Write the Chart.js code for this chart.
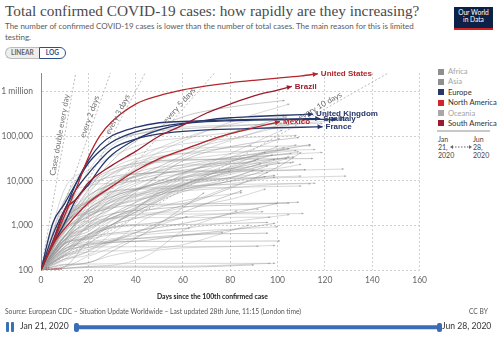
<!DOCTYPE html>
<html>
<head>
<meta charset="utf-8">
<script src="https://cdn.jsdelivr.net/npm/chart.js@4"></script>
<style>
  body { margin: 0; width: 500px; height: 337px; background: #fff; font-family: Lato, sans-serif; position: relative; overflow: hidden; }
  .abs { position: absolute; white-space: nowrap; }
  #title { left: 5px; top: 2px; font: 15.3px "Liberation Serif", serif; color: #4a4a4a; }
  #subtitle { left: 5px; top: 21px; font-size: 8px; line-height: 11px; color: #5b5b5b; }
  #toggle { left: 5px; top: 47px; height: 12px; display: flex; font-size: 6.5px; font-weight: bold; }
  #toggle .lin { background: #eee; border: 1px solid #bbb; border-right: none; border-radius: 7px 0 0 7px; color: #666; padding: 0 5px; line-height: 10px; }
  #toggle .log { background: #fff; border: 1px solid #2d4f8a; border-radius: 0 7px 7px 0; color: #2d4f8a; padding: 0 6px; line-height: 10px; }
  #logo { left: 454px; top: 7px; width: 39px; height: 19px; background: #0b2148; color: #fff; font-size: 6.6px; line-height: 7px; text-align: center; padding-top: 2px; border-bottom: 2px solid #ce261e; }
  #chartBox { left: 0; top: 60px; width: 432px; height: 246px; }
  #xTitle { left: 157px; top: 292px; font-size: 6.8px; font-weight: bold; color: #222; }
  #legend { left: 438px; top: 66px; font-size: 7.6px; }
  #legend div { height: 10.4px; line-height: 10px; }
  #legend span.sq { display: inline-block; width: 6px; height: 6px; margin-right: 4px; vertical-align: -0.5px; }
  #sep { left: 437px; top: 130px; width: 53px; height: 2px; background: #c8c8c8; }
  .date { font-size: 7px; line-height: 8px; color: #444; top: 135px; }
  #source { left: 5px; top: 307px; font-size: 6.7px; color: #555; }
  #ccby { left: 469px; top: 307px; font-size: 6.7px; color: #555; }
  .tl { font-size: 8.6px; color: #333; top: 321px; }
</style>
</head>
<body>
<div id="title" class="abs">Total confirmed COVID-19 cases: how rapidly are they increasing?</div>
<div id="subtitle" class="abs">The number of confirmed COVID-19 cases is lower than the number of total cases. The main reason for this is limited<br>testing.</div>
<div id="toggle" class="abs"><div class="lin">LINEAR</div><div class="log">LOG</div></div>
<div id="logo" class="abs">Our World<br>in Data</div>
<div id="chartBox" class="abs"><canvas id="chart" width="432" height="246"></canvas></div>
<div id="xTitle" class="abs">Days since the 100th confirmed case</div>
<div id="legend" class="abs"></div>
<div id="sep" class="abs"></div>
<div class="abs date" style="left:438px">Jan<br>21,<br>2020</div>
<div class="abs date" style="left:473px">Jun<br>28,<br>2020</div>
<svg class="abs" style="left:450px;top:143px" width="22" height="8">
  <line x1="2" y1="4" x2="20" y2="4" stroke="#666" stroke-width="1" stroke-dasharray="1.5,1.5"/>
  <path d="M0,4 L3,2 L3,6 Z M22,4 L19,2 L19,6 Z" fill="#666"/>
</svg>
<div id="source" class="abs">Source: European CDC – Situation Update Worldwide – Last updated 28th June, 11:15 (London time)</div>
<div id="ccby" class="abs">CC BY</div>
<svg class="abs" style="left:0;top:318px" width="500" height="19">
  <rect x="6" y="4" width="3" height="10" rx="1" fill="#3b6fb6"/>
  <rect x="11" y="4" width="3" height="10" rx="1" fill="#3b6fb6"/>
  <rect x="76" y="7.2" width="364" height="4" rx="2" fill="#3a6db5"/>
  <rect x="74" y="5" width="5" height="9" rx="2" fill="#3a6db5"/>
  <rect x="437" y="5" width="5" height="9" rx="2" fill="#3a6db5"/>
</svg>
<div class="abs tl" style="left:20px">Jan 21, 2020</div>
<div class="abs tl" style="left:442px">Jun 28, 2020</div>

<script>
// axis ticks
const yTickValues = [100, 1000, 10000, 100000, 1000000];
const yTickLabels = ['100', '1,000', '10,000', '100,000', '1 million'];
const xMin = 0, xMax = 160, xStep = 20;
const yMin = 100, yMax = 2600000;

// legend
const regions = ['Africa', 'Asia', 'Europe', 'North America', 'Oceania', 'South America'];
const regionActive = [false, false, true, true, false, true];
const regionColors = ['#8f8f8f', '#8f8f8f', '#26376b', '#d3222a', '#a8a8a8', '#9b1b2e'];

// highlighted countries: [day since 100th case, confirmed cases]
const unitedStates = [[0,100],[5,400],[10,1678],[15,7000],[20,33404],[25,104000],[30,213000],[40,525000],[50,812000],[60,1092000],[70,1342000],[80,1577000],[90,1790000],[100,2000000],[110,2255000],[117,2510000]];
const brazil = [[0,100],[5,428],[10,2201],[15,3904],[20,9056],[30,22169],[40,45757],[50,101147],[60,177589],[70,330890],[80,526447],[90,802828],[100,1083341],[106,1313667]];
const mexico = [[0,100],[5,367],[10,848],[20,3181],[30,7497],[40,16752],[50,31522],[60,49219],[70,78023],[80,113619],[90,154863],[101,212802]];
const unitedKingdom = [[0,100],[5,373],[10,1140],[15,3983],[20,8077],[25,19522],[30,38168],[40,84279],[50,138078],[60,186599],[70,229705],[80,259559],[90,276332],[100,291409],[115,311151]];
const spain = [[0,100],[5,430],[10,2140],[15,9191],[20,28572],[25,64059],[30,102136],[40,157022],[50,200210],[60,213435],[70,224390],[80,232555],[90,239228],[100,241717],[118,248770]];
const italy = [[0,100],[5,1128],[10,3089],[15,9172],[20,24747],[25,47021],[30,74386],[40,124632],[50,162488],[60,192994],[70,211938],[80,222104],[90,229858],[100,233836],[110,236651],[125,240436]];
const france = [[0,100],[5,613],[10,2284],[15,6633],[20,14459],[25,29155],[30,52128],[40,86334],[50,112606],[60,128442],[70,139063],[80,143427],[90,149668],[100,154591],[110,158641],[119,162936]];

const countryNames = ['United States', 'Brazil', 'Mexico', 'United Kingdom', 'Spain', 'Italy', 'France'];
const countrySeries = [unitedStates, brazil, mexico, unitedKingdom, spain, italy, france];
const countryRegion = [3, 5, 3, 2, 2, 2, 2];

// doubling reference lines (from 100 cases at day 0 to the top of the axis)
const doublingLabels = ['Cases double every day', 'every 2 days', 'every 3 days', 'every 5 days', 'every 10 days'];
const doublingEnds = [[14.67, 2600000], [29.33, 2600000], [44.0, 2600000], [73.3, 2600000], [146.7, 2600000]];
const doublingLabelAt = [0.475, 0.665, 0.68, 0.735, 0.75];

// all other countries (shown in grey)
const otherCountries = [
  [[0,100],[10,1036],[20,6343],[30,27938],[45,114431],[60,272043],[80,449834],[103,634437]],
  [[0,100],[10,415],[20,2902],[30,7447],[45,31332],[60,78003],[80,207615],[105,528859]],
  [[0,100],[10,580],[20,2281],[30,11475],[45,40459],[60,88541],[80,183198],[103,275989]],
  [[0,100],[10,922],[20,4471],[30,8273],[45,16023],[60,37040],[80,113628],[104,271982]],
  [[0,100],[10,6566],[20,17361],[30,35408],[45,71686],[60,91472],[80,120198],[100,169425],[122,222669]],
  [[0,100],[10,1565],[20,16662],[30,61913],[45,127584],[60,159119],[80,176007],[100,184543],[119,194259]],
  [[0,100],[10,3629],[20,23934],[30,74193],[45,122392],[60,146457],[80,167410],[102,196515]],
  [[0,100],[10,1495],[20,2818],[30,5716],[45,13328],[60,32081],[80,80463],[104,202955]],
  [[0,100],[10,767],[20,2039],[30,5369],[45,21402],[60,46869],[80,85261],[105,182493]],
  [[0,100],[10,1012],[20,3382],[30,8790],[45,22268],[60,49534],[84,137787]],
  [[0,100],[10,1170],[20,1845],[30,2783],[45,5951],[60,13524],[80,40792],[102,138134]],
  [[0,100],[10,1384],[20,8612],[30,22148],[45,46895],[60,66780],[80,88512],[108,103918]],
  [[0,100],[10,470],[20,1325],[30,2376],[45,8525],[60,28272],[80,58433],[109,93663]],
  [[0,100],[10,798],[20,1780],[30,3439],[45,7668],[60,14939],[80,33466],[101,88591]],
  [[0,100],[10,327],[20,985],[30,2350],[45,5537],[60,11719],[80,26384],[108,63923]],
  [[0,100],[10,1279],[20,3447],[30,7693],[45,14385],[60,23216],[80,33843],[100,48288],[114,65137]],
  [[0,100],[10,1981],[20,6723],[30,14027],[45,28681],[60,41658],[89,61475]],
  [[0,100],[10,1627],[20,3465],[30,7603],[45,24934],[60,30419],[80,40414],[103,55255]],
  [[0,100],[10,579],[20,1986],[30,3842],[45,7775],[60,15438],[80,27549],[105,52812]],
  [[0,100],[10,1054],[20,1894],[30,2839],[45,4428],[60,8068],[80,21037],[100,59933]],
  [[0,100],[10,178],[20,385],[30,926],[45,3699],[60,14423],[80,29812],[100,37910],[119,43246]],
  [[0,100],[10,552],[20,2311],[30,4428],[45,7579],[60,11618],[80,16634],[105,34803]],
  [[0,100],[10,254],[20,620],[30,1046],[45,3654],[60,11135],[80,15798],[100,16851],[128,18390]],
  [[0,100],[10,3736],[20,7755],[30,8799],[45,10237],[60,10694],[80,11037],[100,11668],[129,12757]],
  [[0,100],[10,378],[20,566],[30,1042],[45,2719],[60,5735],[80,9910],[94,16742]],
  [[0,100],[10,288],[20,627],[30,1337],[45,4787],[60,8344],[80,15181],[93,24567]],
  [[0,100],[10,791],[20,1545],[30,3568],[45,5408],[60,7211],[80,8537],[99,12052]],
  [[0,100],[10,216],[20,320],[30,435],[45,887],[60,1962],[85,6070]],
  [[0,100],[10,1072],[20,3635],[30,5795],[45,6547],[60,6849],[80,7124],[110,7641]],
  [[0,100],[10,868],[20,1239],[30,1445],[45,1487],[60,1504],[97,1528]],
  [[0,100],[10,599],[20,1651],[30,2473],[45,2954],[60,3017],[80,3104],[105,3162]],
  [[0,100],[10,203],[20,255],[30,268],[45,271],[60,314],[80,334],[99,355]],
  [[0,100],[10,238],[20,1030],[30,2908],[45,4987],[60,5945],[80,6941],[100,8369],[114,8634]],
  [[0,100],[10,716],[20,1572],[30,2629],[45,4154],[60,6442],[80,9733],[99,13273]],
  [[0,100],[10,555],[20,820],[30,1518],[45,2579],[60,3105],[80,7392],[95,12592]],
  [[0,100],[10,207],[20,291],[30,412],[45,1492],[60,2480],[80,3836],[95,6586]],
  [[0,100],[10,131],[20,145],[30,263],[45,731],[60,2506],[69,5425]],
  [[0,100],[10,116],[20,203],[30,317],[45,679],[63,870]],
  [[0,100],[10,176],[20,217],[30,460],[45,824],[60,1469],[80,1859],[94,2037]],
  [[0,100],[10,298],[20,379],[30,425],[45,438],[60,440],[101,447]],
  [[0,100],[10,268],[20,324],[30,331],[60,334],[92,341]],
  [[0,100],[10,564],[20,1035],[30,1467],[45,1887],[60,2025],[80,2211],[92,2325]],
  [[0,100],[10,331],[20,910],[30,1716],[45,3573],[60,8118],[80,19954],[98,38150]],
  [[0,100],[10,176],[20,266],[30,665],[45,2399],[60,7623],[80,24112],[109,44942]],
  [[0,100],[10,485],[20,840],[30,1463],[45,3224],[60,7072],[80,17267],[92,31238]],
  [[0,100],[10,214],[20,630],[30,1031],[45,1677],[60,2818],[80,6868],[100,20209],[110,43402]],
  [[0,100],[10,433],[20,3865],[30,10408],[45,14882],[60,16539],[80,17714],[100,18983],[110,23491]],
  [[0,100],[10,108],[20,121],[30,128],[45,212],[60,758],[83,2138]],
  [[0,100],[10,119],[20,446],[30,920],[45,1089],[62,1568]],
  [[0,100],[10,375],[20,1042],[30,2912],[45,9026],[49,12309]],
  [[0,100],[10,412],[20,494],[30,630],[45,704],[60,850],[80,1191],[105,1745]],
  [[0,100],[10,259],[20,358],[30,413],[45,465],[60,608],[80,784],[99,1121]],
  [[0,100],[10,959],[20,5560],[30,14697],[45,31589],[60,40434],[80,44995],[100,48251],[116,50223]],
  [[0,100],[10,689],[20,4937],[30,18431],[45,36138],[60,50781],[80,57455],[100,59819],[114,61209]],
  [[0,100],[10,1125],[20,8060],[30,17768],[45,26336],[60,29586],[80,30618],[100,31063],[115,31555]],
  [[0,100],[10,2060],[20,8251],[30,15472],[45,24027],[60,28319],[80,31292],[106,41189]],
  [[0,100],[10,1319],[20,4662],[30,8617],[45,14710],[60,20148],[80,27856],[95,43628]],
  [[0,100],[10,1051],[20,2946],[30,6934],[45,12218],[60,17204],[80,23786],[107,34154]],
  [[0,100],[10,109],[20,119],[30,122],[60,122],[97,141]],
  [[0,100],[10,135],[20,136],[30,138],[60,141],[99,141]],
  [[0,100],[10,227],[20,393],[30,449],[60,611],[96,670]],
  [[0,100],[10,409],[20,890],[30,1417],[45,1754],[60,1799],[111,1842]],
  [[0,100],[10,120],[20,147],[30,212],[45,287],[60,370],[88,1025]],
  [[0,100],[10,394],[20,623],[30,884],[45,1022],[60,1043],[96,1168]],
  [[0,100],[10,250],[20,579],[30,1495],[45,2146],[60,3553],[85,5450]],
  [[0,100],[10,304],[20,424],[30,501],[45,630],[60,719],[80,821],[100,932]],
  [[0,100],[10,109],[20,114],[30,116],[60,116],[90,130]],
  [[0,100],[10,163],[20,257],[30,473],[45,517],[77,702]],
  [[0,100],[10,558],[20,1475],[30,3400],[45,6021],[60,8944],[80,13837],[104,31686]],
  [[0,100],[10,1109],[20,2111],[30,4335],[45,7288],[60,12314],[80,18708],[99,30619]],
  [[0,100],[10,264],[20,493],[30,1014],[45,3577],[60,9592],[80,18459],[91,29434]],
  [[0,100],[10,405],[20,1264],[30,4123],[45,10349],[60,19661],[80,33170],[108,47797]],
  [[0,100],[10,464],[20,727],[30,1775],[45,4205],[60,7919],[80,11796],[96,21819]],
  [[0,100],[10,433],[20,2245],[30,5202],[45,10635],[60,14499],[80,18594],[107,26313]],
  [[0,100],[10,1329],[20,3849],[30,8928],[45,18184],[60,22248],[80,24506],[106,25437]],
  [[0,100],[10,1646],[20,7697],[30,12297],[45,14873],[60,15752],[80,16503],[112,17766]],
  [[0,100],[10,1151],[20,2366],[30,4875],[45,7695],[60,10083],[80,11437],[110,12751]],
  [[0,100],[10,1256],[20,3369],[30,5640],[45,6937],[60,7738],[80,8237],[116,8862]],
  [[0,100],[10,495],[20,1156],[30,1832],[45,2245],[60,2626],[80,2840],[109,3310]],
  [[0,100],[10,289],[20,530],[30,1052],[45,2743],[60,7866],[80,16397]],
  [[0,100],[10,392],[20,510],[30,1270],[45,2955],[60,6327],[80,11258],[90,17658]],
  [[0,100],[10,330],[20,539],[30,669],[45,822],[60,1105],[80,1796],[100,3130]],
  [[0,100],[10,482],[20,937],[30,1473],[45,3392],[60,8216],[80,15281],[101,25127]],
  [[0,100],[10,752],[20,2049],[30,3304],[45,5553],[60,8548],[80,11879],[96,15453]]
];

// legend in html
const legendEl = document.getElementById('legend');
regions.forEach((r, i) => {
  const d = document.createElement('div');
  d.innerHTML = `<span class="sq" style="background:${regionColors[i]}"></span>${r}`;
  d.style.color = regionActive[i] ? '#333' : '#a3a3a3';
  legendEl.appendChild(d);
});

const toXY = arr => arr.map(p => ({ x: p[0], y: p[1] }));
const datasets = [];

countrySeries.forEach((s, i) => {
  const col = regionColors[countryRegion[i]];
  datasets.push({
    kind: 'country', label: countryNames[i], data: toXY(s),
    borderColor: col === '#d3222a' ? '#b3262b' : col, borderWidth: 1.3, order: 0
  });
});

doublingEnds.forEach((end, i) => {
  datasets.push({
    kind: 'doubling', label: doublingLabels[i], labelAt: doublingLabelAt[i],
    data: toXY([[0, 100], end]), borderColor: '#a9a9a9', borderWidth: 0.8,
    borderDash: [2, 2], cubicInterpolationMode: 'default', tension: 0, order: 1
  });
});

otherCountries.forEach((s, i) => {
  datasets.push({
    kind: 'other', data: toXY(s),
    borderColor: i % 3 === 0 ? 'rgba(130,130,130,0.55)' : 'rgba(165,165,165,0.55)',
    borderWidth: 0.8, order: 2
  });
});

function arrowHead(ctx, pts, size, color) {
  const tip = pts[pts.length - 1];
  let fx = tip.cp1x, fy = tip.cp1y;
  if (fx === undefined || (Math.abs(fx - tip.x) < 0.01 && Math.abs(fy - tip.y) < 0.01)) {
    fx = pts[pts.length - 2].x; fy = pts[pts.length - 2].y;
  }
  const a = Math.atan2(tip.y - fy, tip.x - fx);
  ctx.save();
  ctx.translate(tip.x, tip.y);
  ctx.rotate(a);
  ctx.fillStyle = color;
  ctx.beginPath();
  ctx.moveTo(0, 0);
  ctx.lineTo(-size, -size * 0.5);
  ctx.lineTo(-size, size * 0.5);
  ctx.closePath();
  ctx.fill();
  ctx.restore();
}

const labelPlugin = {
  id: 'lineLabels',
  afterDatasetsDraw(chart) {
    const ctx = chart.ctx;
    // grey arrow ends first, then highlighted
    chart.data.datasets.forEach((ds, i) => {
      if (ds.kind !== 'other') return;
      arrowHead(ctx, chart.getDatasetMeta(i).data, 2, 'rgba(140,140,140,0.7)');
    });
    chart.data.datasets.forEach((ds, i) => {
      const pts = chart.getDatasetMeta(i).data;
      if (ds.kind === 'doubling') {
        const p0 = pts[0], p1 = pts[1];
        const a = Math.atan2(p1.y - p0.y, p1.x - p0.x);
        ctx.save();
        ctx.translate(p0.x + ds.labelAt * (p1.x - p0.x), p0.y + ds.labelAt * (p1.y - p0.y));
        ctx.rotate(a);
        ctx.font = '8px Lato';
        ctx.fillStyle = '#6f6f6f';
        ctx.textBaseline = 'bottom';
        ctx.fillText(ds.label, 0, -1);
        ctx.restore();
      }
    });
    chart.data.datasets.forEach((ds, i) => {
      if (ds.kind !== 'country') return;
      const pts = chart.getDatasetMeta(i).data;
      arrowHead(ctx, pts, 5, ds.borderColor);
      const tip = pts[pts.length - 1];
      ctx.save();
      ctx.font = 'bold 8px "Liberation Sans"';
      ctx.fillStyle = ds.borderColor;
      ctx.textBaseline = 'middle';
      ctx.fillText(ds.label, tip.x + 3, tip.y);
      ctx.restore();
    });
    // start marker text
    const x0 = chart.scales.x.getPixelForValue(0), y0 = chart.scales.y.getPixelForValue(100);
    ctx.save();
    ctx.font = '4.5px Lato';
    ctx.fillStyle = '#bb2a2e';
    ctx.textBaseline = 'middle';
    ctx.fillText('21 cases', x0 + 4, y0 - 1);
    ctx.restore();
  }
};

new Chart(document.getElementById('chart').getContext('2d'), {
  type: 'line',
  data: { datasets },
  plugins: [labelPlugin],
  options: {
    responsive: false,
    animation: false,
    layout: { padding: { top: 6, right: 11, left: 0, bottom: 0 } },
    elements: {
      point: { radius: 0 },
      line: { cubicInterpolationMode: 'monotone', fill: false }
    },
    plugins: { legend: { display: false }, tooltip: { enabled: false } },
    scales: {
      x: {
        type: 'linear', min: xMin, max: xMax,
        afterFit: s => { s.height = 36; },
        ticks: { stepSize: xStep, color: '#666', font: { family: 'Lato', size: 8.5 }, padding: 5, maxRotation: 0 },
        grid: { color: '#cfcfcf', drawTicks: false },
        border: { display: false, dash: [2, 2] }
      },
      y: {
        type: 'logarithmic', min: yMin, max: yMax,
        afterFit: s => { s.width = 41; },
        afterBuildTicks: s => { s.ticks = yTickValues.map(v => ({ value: v })); },
        ticks: {
          color: '#666', font: { family: 'Lato', size: 8.5 }, padding: 8,
          callback: v => { const k = yTickValues.indexOf(v); return k < 0 ? '' : yTickLabels[k]; }
        },
        grid: { color: '#cfcfcf', drawTicks: false },
        border: { display: true, color: '#8a8a8a', width: 1, dash: [2, 2] }
      }
    }
  }
});
</script>
</body>
</html>
